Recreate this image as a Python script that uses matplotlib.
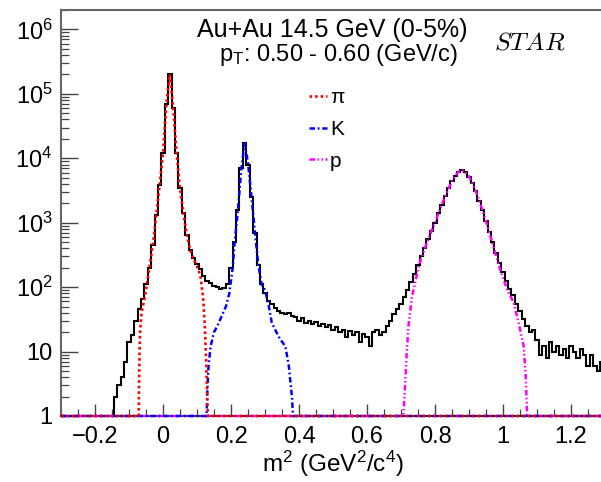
import numpy as np
import matplotlib
matplotlib.use('Agg')
import matplotlib.pyplot as plt
from matplotlib.lines import Line2D
from matplotlib.ticker import MultipleLocator, LogLocator, NullFormatter

plt.rcParams['font.family'] = ['Liberation Sans', 'DejaVu Sans']
plt.rcParams['mathtext.fontset'] = 'custom'
plt.rcParams['mathtext.rm'] = 'Liberation Sans'
plt.rcParams['mathtext.it'] = 'Liberation Sans:italic'

# m^2 histogram, 0.01 wide bins centred on -0.30, -0.29, ..., 1.30
bin_edges = np.linspace(-0.305, 1.305, 162)
counts = [
    0, 0, 0, 0, 0, 0, 0, 0, 0, 0, 0, 0, 0, 0,          # -0.30 .. -0.17
    1, 1, 2, 3, 4, 7, 14, 18, 30, 45,                   # -0.16 .. -0.07
    65, 110, 200, 450, 1300, 3800, 12000, 70000,        # -0.06 .. 0.01
    200000, 60000, 12000, 3400, 1400, 650, 380, 280,    # 0.02 .. 0.09
    230, 190, 150, 125, 115, 105, 100, 95, 98, 110,     # 0.10 .. 0.19
    200, 500, 1600, 7000, 17000, 8000, 2500, 700,       # 0.20 .. 0.27
    220, 110, 80, 62, 55, 48, 42, 40, 38, 40,           # 0.28 .. 0.37
    36, 34, 30, 33, 28, 30, 27, 29, 25, 27,             # 0.38 .. 0.47
    24, 26, 22, 24, 20, 22, 17, 21, 18, 20,             # 0.48 .. 0.57
    14, 19, 17, 12, 20, 22, 18, 20, 25, 30,             # 0.58 .. 0.67
    38, 45, 55, 70, 90, 120, 160, 220, 300, 400,        # 0.68 .. 0.77
    550, 750, 1000, 1400, 1900, 2600, 3400, 4400,       # 0.78 .. 0.85
    5400, 6200, 6500, 6100, 5200, 4100, 3100, 2200,     # 0.86 .. 0.93
    1550, 1050, 720, 500, 340, 240, 170, 125, 95, 75,   # 0.94 .. 1.03
    55, 42, 32, 25, 20, 22, 15, 9, 12, 8,               # 1.04 .. 1.13
    14, 10, 12, 9, 11, 8, 12, 10, 8, 11,                # 1.14 .. 1.23
    9, 6, 9, 6, 5, 7, 6,                                # 1.24 .. 1.30
]
assert len(counts) == len(bin_edges) - 1

# fit functions (drawn at the axis floor where they vanish)
pi_m2 = [-0.30, -0.0715, -0.0705, -0.069, -0.067, -0.063, -0.055, -0.05, -0.04,
         -0.03, -0.02, -0.01, 0.0, 0.01, 0.02, 0.03, 0.04, 0.05, 0.06, 0.07,
         0.08, 0.09, 0.10, 0.11, 0.118, 0.123, 0.127, 0.130, 0.132, 1.30]
pi_fit = [1, 1, 3, 10, 22, 40, 65, 90, 200,
          450, 1300, 3800, 12000, 70000, 200000, 60000, 12000, 3400, 1400, 650,
          380, 270, 210, 150, 70, 25, 7, 2, 1, 1]

k_m2 = [-0.30, 0.128, 0.131, 0.134, 0.14, 0.15, 0.16, 0.175, 0.185, 0.195,
        0.205, 0.21, 0.22, 0.23, 0.24, 0.25, 0.26, 0.27, 0.28, 0.29,
        0.30, 0.31, 0.32, 0.34, 0.36, 0.37, 0.38, 0.382, 1.30]
k_fit = [1, 1, 3, 6, 12, 20, 25, 38, 50, 80,
         200, 450, 1500, 6500, 17000, 8500, 2600, 750, 230, 110,
         90, 55, 28, 17, 12, 6, 1.8, 1, 1]

p_m2 = [-0.30, 0.707, 0.712, 0.717, 0.722, 0.732, 0.742, 0.75, 0.76, 0.77,
        0.78, 0.79, 0.80, 0.81, 0.82, 0.83, 0.84, 0.85, 0.86, 0.87,
        0.88, 0.89, 0.90, 0.91, 0.92, 0.93, 0.94, 0.95, 0.96, 0.97,
        0.98, 0.99, 1.00, 1.012, 1.031, 1.046, 1.061, 1.067, 1.071, 1.30]
p_fit = [1, 1, 3, 10, 25, 70, 120, 190, 290, 400,
         550, 750, 1000, 1400, 1900, 2600, 3400, 4400, 5400, 6200,
         6500, 6100, 5200, 4100, 3100, 2200, 1550, 1050, 700, 460,
         300, 200, 140, 92, 58, 28, 12, 4, 1, 1]

xticks = [-0.2, 0.0, 0.2, 0.4, 0.6, 0.8, 1.0, 1.2]
xtick_labels = ['\u22120.2', '0', '0.2', '0.4', '0.6', '0.8', '1', '1.2']
yticks = [1, 10, 1e2, 1e3, 1e4, 1e5, 1e6]
ytick_labels = ['1', '10', '$10^{2}$', '$10^{3}$', '$10^{4}$', '$10^{5}$', '$10^{6}$']

fig = plt.figure(figsize=(6.01, 4.82), dpi=100)
ax = fig.add_axes([61 / 601, 1 - 416 / 482, 544 / 601, 406 / 482])

ax.stairs(np.clip(counts, 1, None), bin_edges, baseline=None,
          color='black', lw=1.5, zorder=2)

pi_style = dict(color='#ff0000', ls=(0, (1, 1.1)), lw=1.9)
k_style = dict(color='#0000ff', ls=(0, (2.2, 1.1, 0.7, 1.1)), lw=1.8)
p_style = dict(color='#ff00ff', ls=(0, (2.2, 1.0, 0.6, 1.0, 0.6, 1.0)), lw=1.8)

ax.plot(p_m2, p_fit, clip_on=False, zorder=3, **p_style)
ax.plot(k_m2, k_fit, clip_on=False, zorder=4, **k_style)
ax.plot(pi_m2, pi_fit, clip_on=False, zorder=5, **pi_style)

ax.set_yscale('log')
ax.set_xlim(-0.3, 1.3)
ax.set_ylim(1, 2e6)

ax.set_xticks(xticks, xtick_labels)
ax.xaxis.set_minor_locator(MultipleLocator(0.05))
ax.set_yticks(yticks, ytick_labels)
ax.yaxis.set_minor_locator(LogLocator(base=10, subs=np.arange(2, 10) * 1.0, numticks=20))
ax.yaxis.set_minor_formatter(NullFormatter())

ax.tick_params(which='both', direction='in', top=False, right=False,
               color='#444444', labelsize=17)
ax.tick_params(axis='y', which='major', length=12, width=1.0, pad=6)
ax.tick_params(axis='y', which='minor', length=6, width=0.9)
ax.tick_params(axis='x', which='major', length=9, width=1.0, pad=7)
ax.tick_params(axis='x', which='minor', length=5, width=0.9)

for side in ['left', 'top']:
    ax.spines[side].set_color('#666666')
    ax.spines[side].set_linewidth(1.5)
ax.spines['bottom'].set_linewidth(1.2)
ax.spines['right'].set_visible(False)

ax.set_xlabel('m$^{2}$ (GeV$^{2}$/c$^{4}$)', fontsize=17.5, labelpad=1)

fig.text(332 / 601, 1 - 37 / 482, 'Au+Au 14.5 GeV (0-5%)',
         ha='center', va='baseline', fontsize=18)
fig.text(338 / 601, 1 - 61 / 482, '$\\mathregular{p_{T}}$: 0.50 - 0.60 (GeV/c)',
         ha='center', va='baseline', fontsize=17)
fig.text(530 / 601, 1 - 50 / 482, '$STAR$', math_fontfamily='cm',
         ha='center', va='baseline', fontsize=18.5)

handles = [Line2D([], [], **pi_style), Line2D([], [], **k_style),
           Line2D([], [], **p_style)]
ax.legend(handles, ['\u03c0', 'K', 'p'], loc='upper left',
          bbox_to_anchor=(0.456, 0.808), frameon=False, fontsize=15,
          handlelength=0.85, handletextpad=0.15, labelspacing=0.62,
          borderpad=0, borderaxespad=0)

fig.savefig('out.png', dpi=100)
